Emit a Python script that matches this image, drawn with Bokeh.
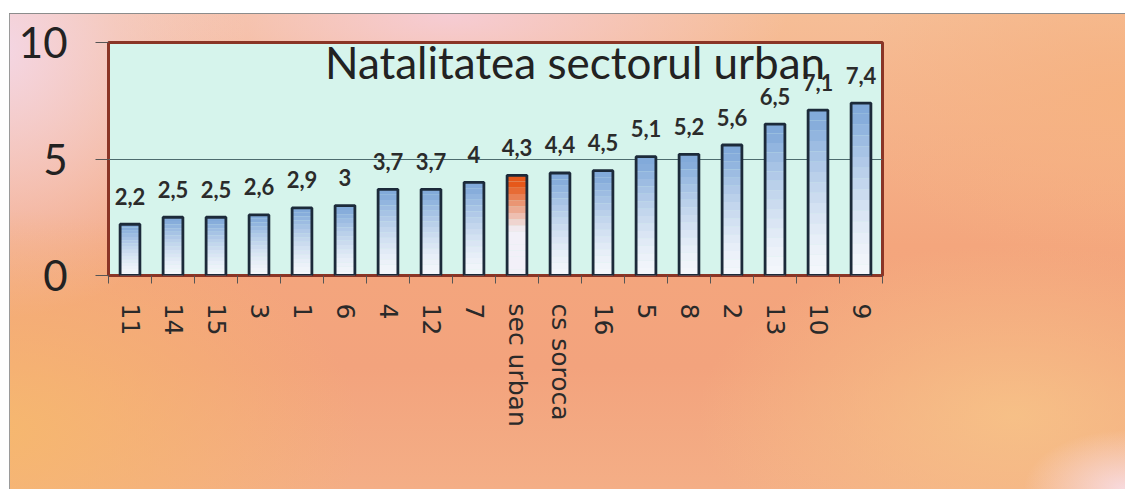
import numpy as np
from bokeh.plotting import figure
from bokeh.models import FixedTicker, Label, ColumnDataSource
from bokeh.core.properties import value
from bokeh.embed import file_html
from bokeh.resources import INLINE

categories = ["11", "14", "15", "3", "1", "6", "4", "12", "7", "sec urban",
              "cs soroca", "16", "5", "8", "2", "13", "10", "9"]
values = [2.2, 2.5, 2.5, 2.6, 2.9, 3, 3.7, 3.7, 4, 4.3, 4.4, 4.5, 5.1, 5.2, 5.6, 6.5, 7.1, 7.4]
highlight = "sec urban"
title_text = "Natalitatea sectorul urban"
y_ticks = [0, 5, 10]

n = len(categories)
vals = np.array(values, dtype=float)
xc = np.arange(n) + 0.5

W, H = 1125, 489
p = figure(width=W, height=H, x_range=(0, n), y_range=(0, 10),
           output_backend="svg", toolbar_location=None,
           min_border_left=108, min_border_right=W - 882,
           min_border_top=42, min_border_bottom=H - 275)

p.border_fill_color = None
p.styles = {
    "background": (
        "linear-gradient(#ffffff,#ffffff) 0 0 / 100% 13px no-repeat,"
        "linear-gradient(#ffffff,#ffffff) 0 0 / 9px 100% no-repeat,"
        "linear-gradient(#8c8c8c,#8c8c8c) 9px 13px / 100% 1px no-repeat,"
        "linear-gradient(#9a9a9a,#9a9a9a) 9px 13px / 1px 100% no-repeat,"
        "radial-gradient(ellipse 9% 12% at 100% 100%, rgba(248,222,232,0.9) 0%, rgba(248,222,232,0) 100%),"
        "radial-gradient(ellipse 28% 35% at 90% 85%, rgba(247,196,136,0.85) 0%, rgba(247,196,136,0) 100%),"
        "radial-gradient(ellipse 32% 45% at 0% 88%, rgba(246,184,110,0.95) 0%, rgba(246,184,110,0) 100%),"
        "radial-gradient(ellipse 22% 55% at 0% 10%, rgba(244,214,228,1) 0%, rgba(244,214,228,0) 100%),"
        "radial-gradient(ellipse 30% 22% at 40% 3%, rgba(246,204,212,1) 0%, rgba(246,204,212,0) 100%),"
        "radial-gradient(ellipse 25% 35% at 100% 20%, rgba(246,178,128,0.9) 0%, rgba(246,178,128,0) 100%),"
        "linear-gradient(180deg, #f6bf98 0%, #f4a67d 50%, #f3a37d 75%, #f4ae86 100%)"
    ),
}

p.background_fill_color = "#d6f4ec"
p.outline_line_color = "#8a3526"
p.outline_line_width = 3

# gridline at 5
p.xgrid.visible = False
p.ygrid.ticker = FixedTicker(ticks=[5])
p.ygrid.grid_line_color = "#4d6b6e"
p.ygrid.grid_line_width = 1

# bars with simulated vertical gradient
N = 16
blue_top = np.array([0x82, 0xaa, 0xda])
blue_bot = np.array([0xf4, 0xf7, 0xfc])
org_top = np.array([0xe6, 0x58, 0x1a])
org_bot = np.array([0xf2, 0xf0, 0xf8])
for k in range(N):
    t = (k + 0.5) / N
    w = min(1.0, t ** 1.5 * 1.1)
    cb = blue_bot + (blue_top - blue_bot) * w
    co = org_bot + (org_top - org_bot) * min(1.0, max(0.0, (t - 0.45) / 0.45))
    cols = ["#%02x%02x%02x" % tuple(int(c) for c in (co if cat == highlight else cb))
            for cat in categories]
    src = ColumnDataSource(dict(x=xc, bottom=vals * k / N, top=vals * (k + 1) / N, c=cols))
    p.vbar(x="x", bottom="bottom", top="top", width=0.46, fill_color="c",
           line_color=None, source=src)

p.vbar(x=xc, top=vals, bottom=0, width=0.46, fill_color=None,
       line_color="#1c2a3a", line_width=2.8)

labels = [("%g" % v).replace(".", ",") for v in values]
p.text(x=xc, y=vals, text=labels, text_align="center", text_baseline="alphabetic",
       y_offset=-28, text_font=value("Lato"), text_font_style="bold",
       text_font_size="22px", text_color="#2b2b2b")

p.add_layout(Label(x=10.85, y=9.16, text=title_text, text_align="center",
                   text_baseline="alphabetic", text_font="Lato", text_font_size="44px",
                   text_color="#222222"))

# axes
p.yaxis.ticker = FixedTicker(ticks=y_ticks)
p.yaxis.axis_line_color = None
p.yaxis.major_tick_line_color = "#555555"
p.yaxis.major_tick_out = 13
p.yaxis.major_tick_in = 0
p.yaxis.minor_tick_line_color = None
p.yaxis.major_label_standoff = 28
p.yaxis.major_label_text_font = "Lato"
p.yaxis.major_label_text_font_size = "42px"
p.yaxis.major_label_text_color = "#222222"

p.xaxis.ticker = FixedTicker(ticks=list(xc), minor_ticks=list(range(n + 1)))
p.xaxis.major_label_overrides = {float(x): c for x, c in zip(xc, categories)}
p.xaxis.axis_line_color = None
p.xaxis.major_tick_line_color = None
p.xaxis.major_tick_out = 0
p.xaxis.minor_tick_line_color = "#555555"
p.xaxis.minor_tick_out = 8
p.xaxis.minor_tick_in = 0
p.xaxis.major_label_orientation = -np.pi / 2
p.xaxis.major_label_standoff = 20
p.xaxis.major_label_text_font = "DejaVu Sans"
p.xaxis.major_label_text_font_size = "25px"
p.xaxis.major_label_text_color = "#2a2a2a"

open("out.html", "w").write(file_html(p, INLINE))
